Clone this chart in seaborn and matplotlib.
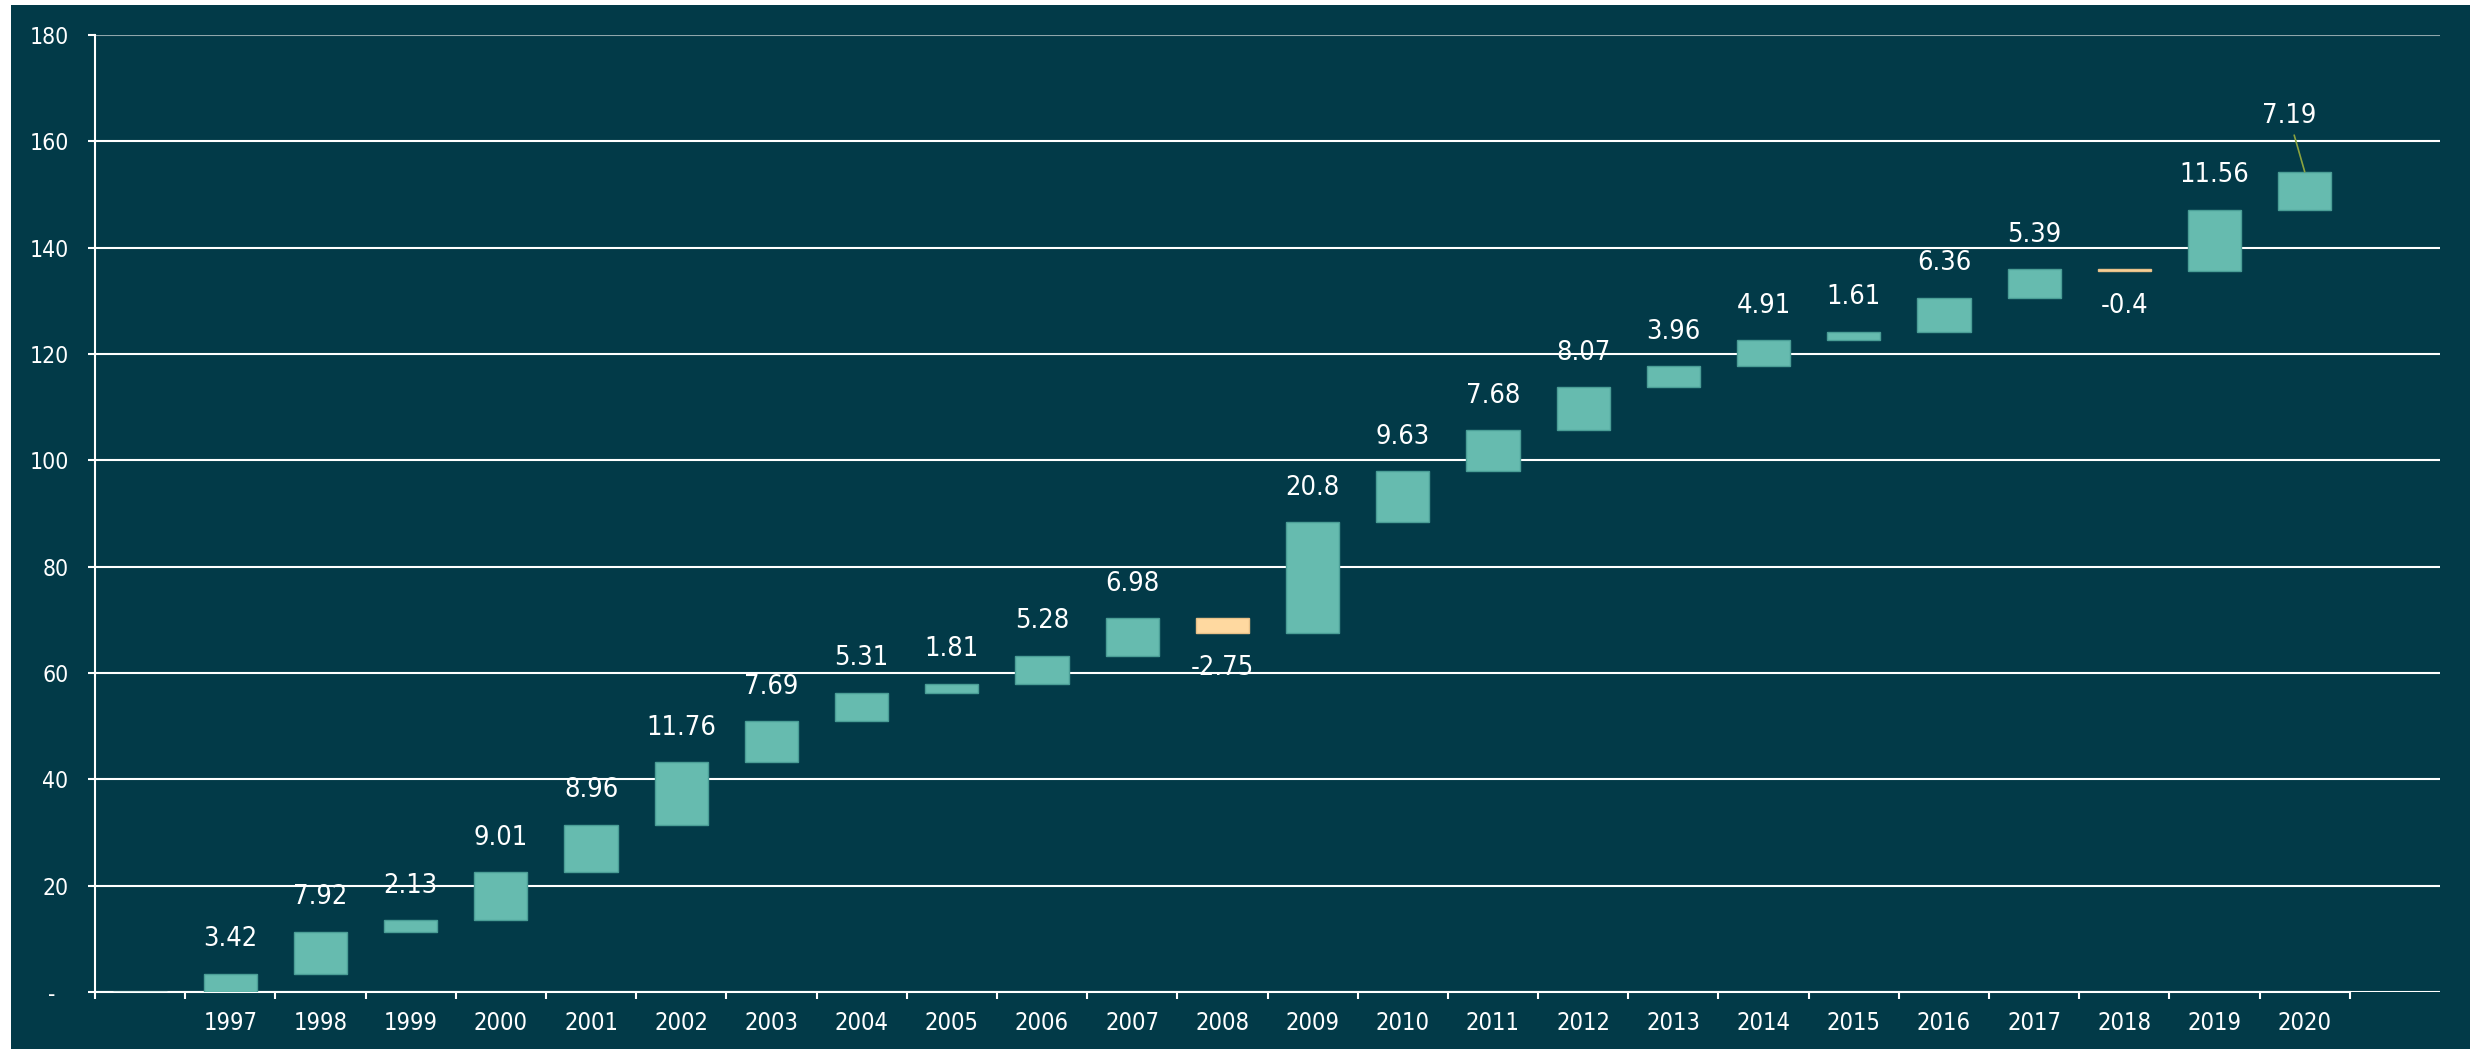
import numpy as np
import pandas as pd
import matplotlib
matplotlib.use("Agg")
import matplotlib.pyplot as plt
import seaborn as sns
from matplotlib.patches import Rectangle
from matplotlib.ticker import FuncFormatter

# ---------------- data ----------------
years = [" ", "1997", "1998", "1999", "2000", "2001", "2002", "2003", "2004",
         "2005", "2006", "2007", "2008", "2009", "2010", "2011", "2012",
         "2013", "2014", "2015", "2016", "2017", "2018", "2019", "2020"]
changes = [0, 3.42, 7.92, 2.13, 9.01, 8.96, 11.76, 7.69, 5.31, 1.81, 5.28,
           6.98, -2.75, 20.8, 9.63, 7.68, 8.07, 3.96, 4.91, 1.61, 6.36, 5.39,
           -0.4, 11.56, 7.19]
y_ticks = [0, 20, 40, 60, 80, 100, 120, 140, 160, 180]

# ---------------- style ----------------
bg = "#023A48"
pos_color = "#66BBAF"
pos_edge = "#4A9E96"
neg_color = "#FFD9A0"
neg_edge = "#E8C088"
leader_color = "#8BA33F"

sns.set_theme(style="white")
plt.rcParams["font.family"] = ["DejaVu Sans"]

tops = np.cumsum(changes)
bases = tops - np.array(changes)
df = pd.DataFrame({"Year": years, "Change": changes, "Base": bases})

W, H = 2472, 1049
fig = plt.figure(figsize=(W / 100, H / 100), dpi=100, facecolor="white")
fig.patches.append(Rectangle((11 / W, 0), (2470 - 11) / W, (H - 5) / H,
                             transform=fig.transFigure, facecolor=bg,
                             edgecolor="none", zorder=-10))

ax = fig.add_axes([95 / W, 1 - 992 / H, (2440 - 95) / W, (992 - 35) / H])
ax.set_facecolor(bg)

sns.barplot(data=df, x="Year", y="Change", bottom=df["Base"].values,
            width=0.59, color=pos_color, edgecolor=pos_edge, linewidth=1.0,
            errorbar=None, ax=ax, zorder=3)

for patch, v in zip(ax.patches, changes):
    patch.set_facecolor(neg_color if v < 0 else pos_color)
    patch.set_edgecolor(neg_edge if v < 0 else pos_edge)
    patch.set_alpha(1)

lab_font = dict(fontsize=19.5, color="white", fontstretch="condensed",
                ha="center", va="center")
n = len(years)
for i, (v, t) in enumerate(zip(changes, tops)):
    if i == 0:
        continue
    txt = f"{v:g}"
    if i == n - 1:
        ax.annotate(txt, xy=(i, t), xytext=(-11.5, 40), textcoords="offset points",
                    arrowprops=dict(arrowstyle="-", color=leader_color, lw=1.2,
                                    shrinkA=2, shrinkB=0), zorder=5, **lab_font)
    elif v >= 0:
        ax.annotate(txt, xy=(i, t), xytext=(0, 25), textcoords="offset points",
                    zorder=5, **lab_font)
    else:
        ax.annotate(txt, xy=(i, t), xytext=(0, -25), textcoords="offset points",
                    zorder=5, **lab_font)

# axes limits
ax.set_xlim(-0.5, n + 0.5)
ax.set_ylim(0, 180)

# y axis
ax.set_yticks(y_ticks)
ax.yaxis.set_major_formatter(FuncFormatter(lambda y, p: "-  " if y == 0 else f"{int(y)}"))
ax.tick_params(axis="y", which="major", length=5, width=1.5, color="white",
               labelcolor="white", labelsize=16.5, pad=14, left=True, direction="out")
for lab in ax.get_yticklabels():
    lab.set_fontstretch("condensed")

# x axis
ax.set_xticks(range(n))
ax.set_xticklabels(years)
ax.set_xticks(np.arange(-0.5, n, 1.0), minor=True)
ax.tick_params(axis="x", which="major", length=0, labelcolor="white",
               labelsize=17, pad=14)
ax.tick_params(axis="x", which="minor", length=5, width=1.5, color="white",
               bottom=True, direction="out")
for lab in ax.get_xticklabels():
    lab.set_fontstretch("condensed")
ax.set_xlabel("")
ax.set_ylabel("")

# grid & spines
ax.yaxis.grid(True, color="white", linewidth=1.5, zorder=0)
ax.set_axisbelow(True)
gl = ax.yaxis.get_gridlines()
if gl:
    gl[-1].set_color("#8FA6AB")
for s in ["top", "right"]:
    ax.spines[s].set_visible(False)
for s in ["left", "bottom"]:
    ax.spines[s].set_color("white")
    ax.spines[s].set_linewidth(1.5)
ax.spines["bottom"].set_bounds(-0.5, n - 0.5)

fig.savefig("out.png", dpi=100, facecolor=fig.get_facecolor())
